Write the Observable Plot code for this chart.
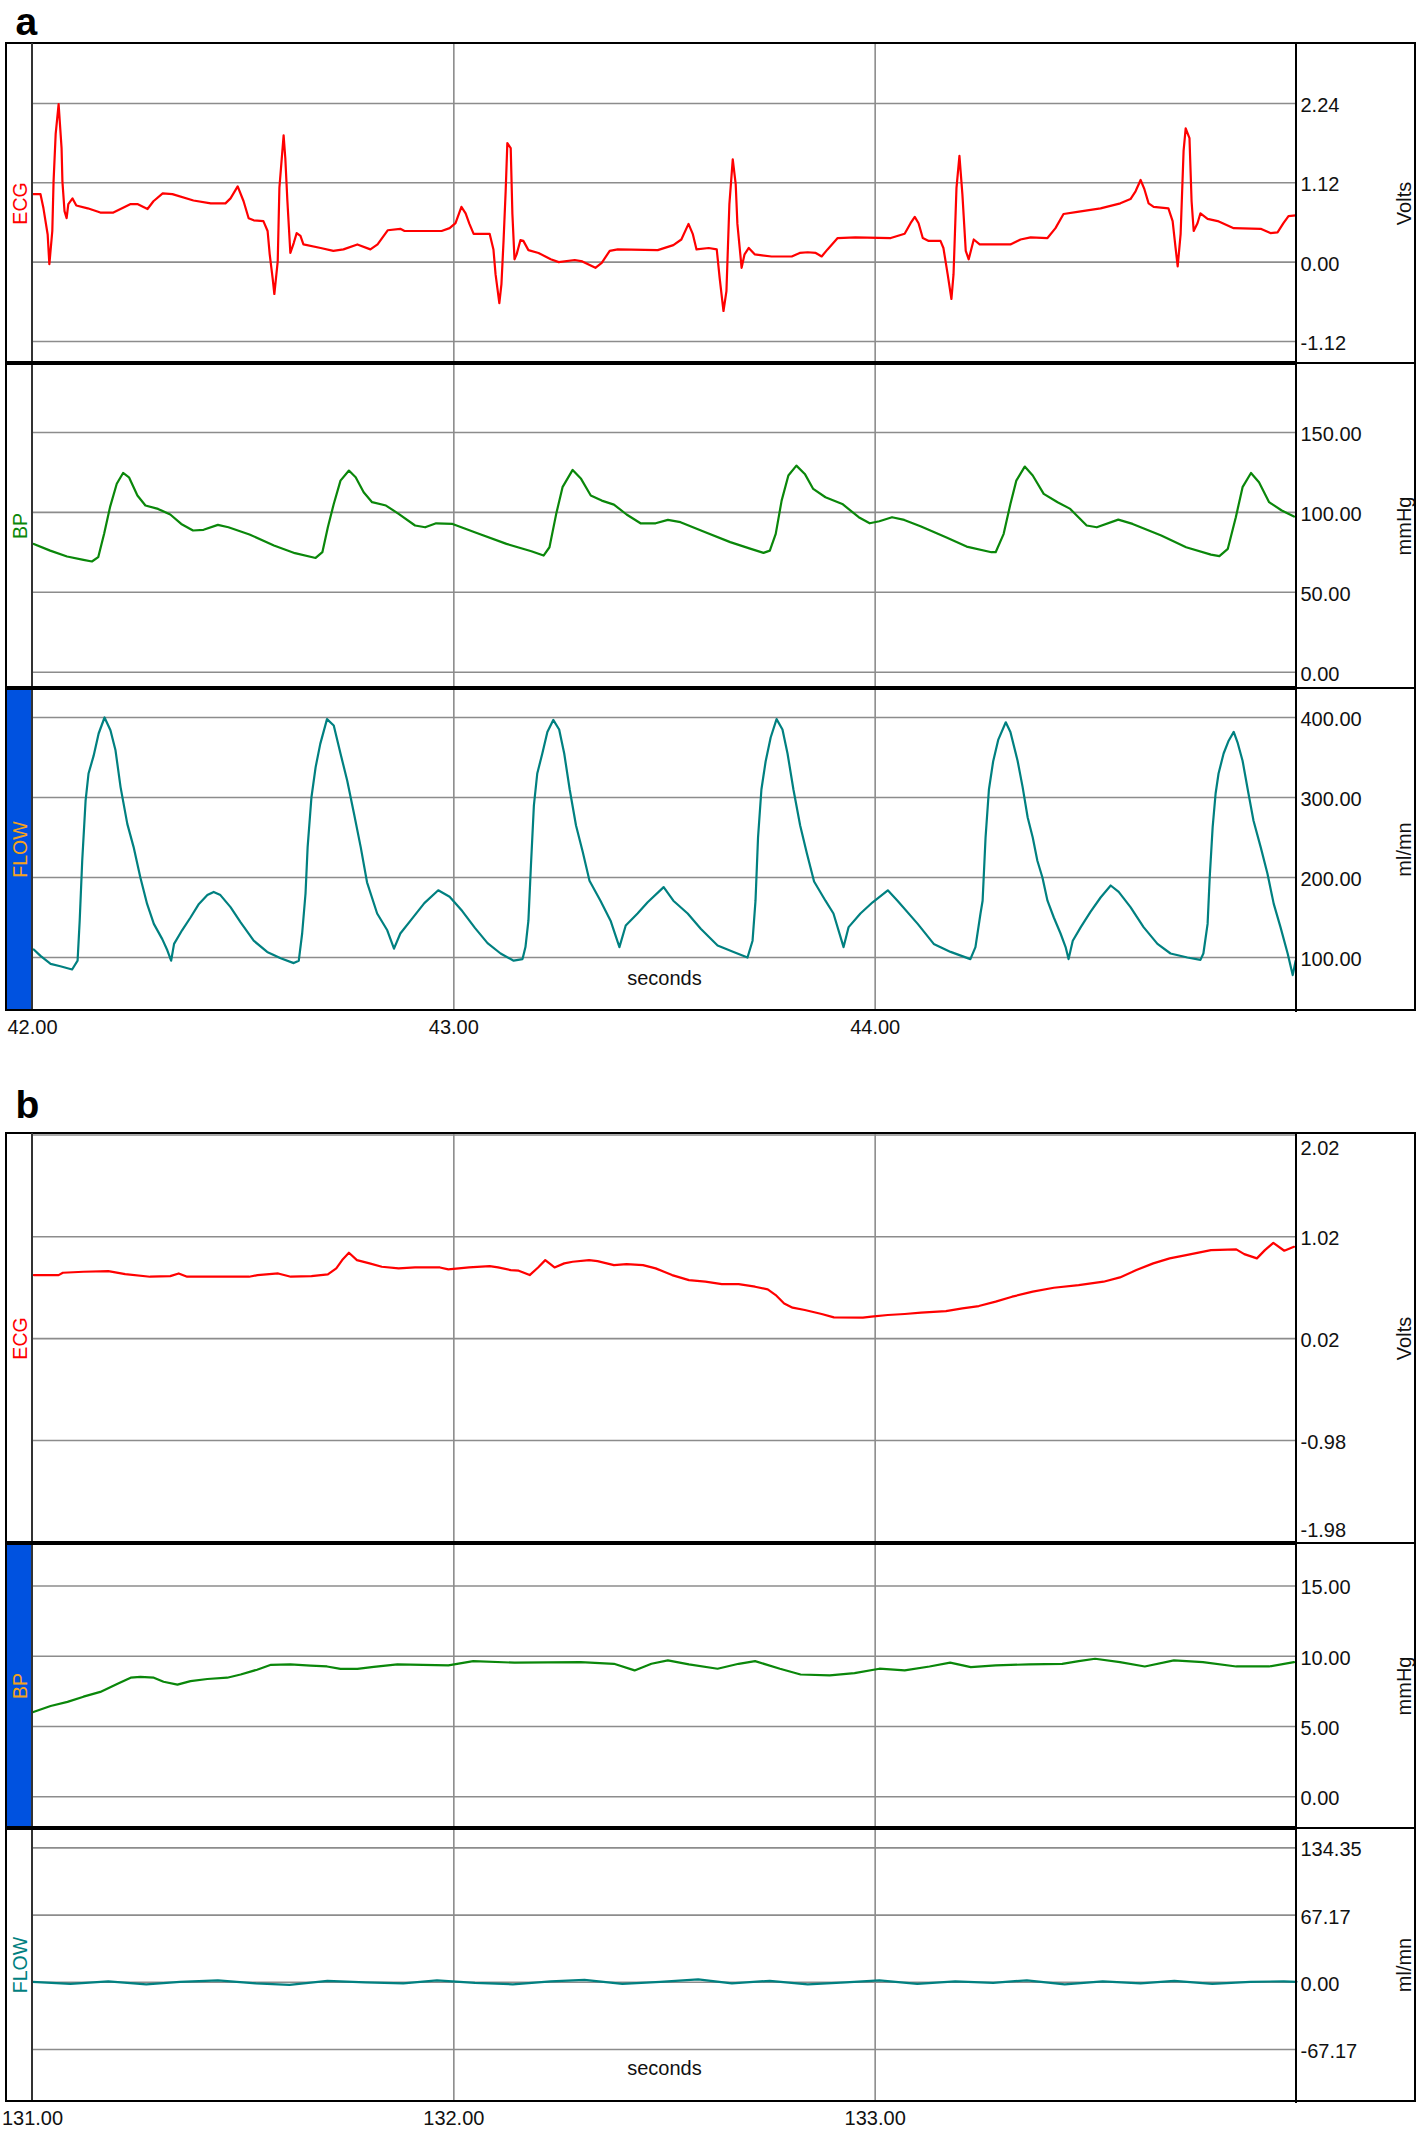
<!DOCTYPE html>
<html><head><meta charset="utf-8">
<script src="https://cdn.jsdelivr.net/npm/d3@7"></script>
<script src="https://cdn.jsdelivr.net/npm/@observablehq/plot@0.6"></script>
<style>
body{margin:0;background:#fff;font-family:"Liberation Sans",Arial,sans-serif;}
#wrap{position:relative;width:1419px;height:2132px;overflow:hidden;background:#fff;}
.ln{position:absolute;z-index:3;}
.bg{position:absolute;z-index:0;background:#0052e0;}
.plab{position:absolute;font-weight:bold;font-size:39px;line-height:39px;color:#000;z-index:4;}
</style></head><body><div id="wrap"></div>
<script>
// ---------------- DATA (time in s, value) ----------------
const ecgA = [[42.002,0.96],[42.019,0.96],[42.026,0.76],[42.036,0.39],[42.040,-0.03],[42.047,0.44],[42.050,1.14],[42.055,1.81],[42.062,2.23],[42.069,1.61],[42.071,1.14],[42.076,0.72],[42.081,0.62],[42.085,0.82],[42.095,0.90],[42.104,0.80],[42.131,0.76],[42.161,0.70],[42.192,0.70],[42.233,0.82],[42.249,0.82],[42.273,0.75],[42.287,0.86],[42.309,0.97],[42.332,0.96],[42.382,0.87],[42.423,0.83],[42.458,0.83],[42.470,0.90],[42.487,1.07],[42.501,0.86],[42.513,0.62],[42.525,0.59],[42.548,0.58],[42.558,0.44],[42.563,0.11],[42.570,-0.23],[42.574,-0.45],[42.582,0.01],[42.586,1.05],[42.596,1.79],[42.600,1.47],[42.605,0.86],[42.612,0.13],[42.620,0.27],[42.627,0.41],[42.636,0.37],[42.643,0.25],[42.684,0.20],[42.714,0.16],[42.738,0.18],[42.771,0.25],[42.802,0.18],[42.819,0.25],[42.843,0.45],[42.873,0.47],[42.883,0.44],[42.971,0.44],[42.990,0.48],[43.004,0.55],[43.018,0.78],[43.028,0.69],[43.037,0.54],[43.047,0.40],[43.085,0.40],[43.094,0.18],[43.099,-0.17],[43.108,-0.58],[43.113,-0.31],[43.118,0.30],[43.123,1.00],[43.127,1.68],[43.135,1.61],[43.139,0.68],[43.144,0.04],[43.149,0.11],[43.158,0.31],[43.165,0.30],[43.177,0.17],[43.201,0.13],[43.230,0.04],[43.249,0.00],[43.287,0.03],[43.305,0.01],[43.336,-0.08],[43.351,-0.01],[43.370,0.16],[43.389,0.18],[43.484,0.17],[43.521,0.24],[43.540,0.32],[43.557,0.54],[43.567,0.40],[43.576,0.18],[43.605,0.20],[43.624,0.18],[43.631,-0.23],[43.640,-0.69],[43.647,-0.41],[43.654,0.82],[43.662,1.45],[43.669,1.10],[43.673,0.54],[43.683,-0.08],[43.690,0.11],[43.700,0.20],[43.714,0.11],[43.754,0.08],[43.802,0.08],[43.821,0.13],[43.840,0.14],[43.859,0.13],[43.873,0.08],[43.887,0.18],[43.911,0.34],[43.953,0.35],[44.037,0.34],[44.070,0.40],[44.084,0.55],[44.094,0.64],[44.103,0.55],[44.113,0.34],[44.127,0.30],[44.155,0.30],[44.162,0.20],[44.172,-0.17],[44.181,-0.52],[44.186,-0.17],[44.193,1.05],[44.200,1.50],[44.207,0.96],[44.215,0.16],[44.222,0.04],[44.234,0.32],[44.248,0.25],[44.298,0.25],[44.321,0.25],[44.345,0.32],[44.369,0.35],[44.409,0.34],[44.428,0.48],[44.447,0.68],[44.480,0.71],[44.535,0.76],[44.582,0.83],[44.606,0.89],[44.618,1.00],[44.630,1.16],[44.639,1.03],[44.649,0.83],[44.661,0.78],[44.696,0.76],[44.706,0.58],[44.713,0.20],[44.718,-0.06],[44.725,0.40],[44.732,1.57],[44.737,1.89],[44.746,1.75],[44.751,0.86],[44.756,0.44],[44.765,0.55],[44.772,0.69],[44.789,0.61],[44.813,0.58],[44.851,0.48],[44.915,0.47],[44.938,0.41],[44.955,0.42],[44.969,0.55],[44.981,0.65],[44.998,0.66]];

const bpA = [[42.003,80.3],[42.042,76.1],[42.082,72.4],[42.121,70.3],[42.141,69.3],[42.156,72.0],[42.170,86.6],[42.184,103.3],[42.200,117.9],[42.215,124.7],[42.229,122.0],[42.249,110.6],[42.268,104.3],[42.298,102.2],[42.327,98.7],[42.353,92.8],[42.381,88.7],[42.406,89.1],[42.440,92.2],[42.465,90.7],[42.515,86.2],[42.573,79.3],[42.623,74.5],[42.672,71.5],[42.688,75.1],[42.701,90.7],[42.715,105.3],[42.731,119.9],[42.751,126.2],[42.767,122.0],[42.786,112.6],[42.806,106.4],[42.839,104.3],[42.869,99.1],[42.908,91.8],[42.932,90.7],[42.958,93.2],[42.997,92.8],[43.056,87.0],[43.125,80.3],[43.184,75.7],[43.213,73.0],[43.227,78.2],[43.243,99.1],[43.258,115.8],[43.282,126.6],[43.302,121.0],[43.325,110.6],[43.351,107.4],[43.380,104.9],[43.410,98.7],[43.443,93.2],[43.479,93.2],[43.508,95.3],[43.538,93.9],[43.597,87.6],[43.656,81.4],[43.705,77.2],[43.735,74.7],[43.750,76.1],[43.764,86.6],[43.778,107.4],[43.794,123.1],[43.813,129.3],[43.833,124.1],[43.853,114.7],[43.882,109.5],[43.922,105.3],[43.961,97.0],[43.987,93.2],[44.010,94.5],[44.040,97.0],[44.069,95.3],[44.109,91.2],[44.168,84.5],[44.217,78.6],[44.276,75.1],[44.286,75.1],[44.305,86.6],[44.321,105.3],[44.335,119.9],[44.355,128.7],[44.374,123.1],[44.400,111.6],[44.433,106.4],[44.463,102.2],[44.502,91.8],[44.526,90.7],[44.577,95.5],[44.611,92.8],[44.679,85.5],[44.738,78.2],[44.797,73.6],[44.817,72.6],[44.837,77.2],[44.856,97.0],[44.872,115.8],[44.892,124.7],[44.911,118.9],[44.935,106.4],[44.965,101.2],[44.994,97.4]];

const flowA = [[42.003,110],[42.019,102],[42.043,92],[42.066,89],[42.094,85],[42.107,96],[42.112,146],[42.118,221],[42.126,296],[42.133,330],[42.145,352],[42.157,380],[42.171,400],[42.185,384],[42.197,359],[42.209,313],[42.225,267],[42.240,238],[42.256,200],[42.272,167],[42.288,142],[42.308,123],[42.320,109],[42.329,96],[42.336,117],[42.355,134],[42.375,150],[42.395,167],[42.415,178],[42.430,182],[42.446,178],[42.470,163],[42.494,144],[42.525,121],[42.557,107],[42.589,99],[42.620,93],[42.632,96],[42.640,130],[42.648,180],[42.653,238],[42.662,300],[42.672,338],[42.683,367],[42.699,398],[42.715,390],[42.731,355],[42.747,321],[42.763,280],[42.779,238],[42.794,194],[42.818,155],[42.842,134],[42.858,111],[42.873,130],[42.900,148],[42.930,168],[42.963,184],[42.990,176],[43.020,158],[43.050,137],[43.080,118],[43.111,105],[43.142,96],[43.163,98],[43.170,113],[43.177,146],[43.183,215],[43.190,290],[43.198,330],[43.210,355],[43.222,382],[43.236,397],[43.250,385],[43.262,355],[43.275,310],[43.290,265],[43.306,232],[43.322,196],[43.348,171],[43.372,146],[43.393,113],[43.408,140],[43.436,155],[43.460,169],[43.498,188],[43.521,171],[43.555,155],[43.586,136],[43.626,115],[43.664,107],[43.697,100],[43.709,121],[43.716,171],[43.722,250],[43.730,310],[43.740,345],[43.752,375],[43.766,398],[43.780,385],[43.792,355],[43.806,310],[43.822,265],[43.838,230],[43.855,195],[43.882,171],[43.901,155],[43.925,113],[43.937,138],[43.965,155],[43.994,169],[44.030,184],[44.053,171],[44.101,142],[44.139,117],[44.179,107],[44.226,98],[44.238,113],[44.250,155],[44.255,171],[44.262,250],[44.270,310],[44.280,345],[44.292,372],[44.310,394],[44.321,382],[44.338,346],[44.350,313],[44.362,275],[44.374,250],[44.385,221],[44.397,200],[44.409,171],[44.424,150],[44.440,130],[44.452,113],[44.459,98],[44.469,121],[44.488,138],[44.511,157],[44.535,175],[44.559,190],[44.578,182],[44.606,163],[44.637,138],[44.670,117],[44.701,105],[44.741,100],[44.772,97],[44.779,105],[44.789,142],[44.794,200],[44.801,263],[44.808,305],[44.815,330],[44.827,355],[44.839,371],[44.851,382],[44.860,369],[44.872,346],[44.886,305],[44.898,271],[44.915,238],[44.931,205],[44.946,167],[44.962,138],[44.979,105],[44.991,78],[44.998,96]];

const ecgB = [[131.003,0.644],[131.062,0.644],[131.072,0.667],[131.121,0.677],[131.180,0.683],[131.220,0.654],[131.279,0.628],[131.327,0.634],[131.347,0.660],[131.367,0.628],[131.514,0.628],[131.534,0.644],[131.583,0.660],[131.613,0.628],[131.662,0.634],[131.701,0.651],[131.721,0.710],[131.735,0.791],[131.751,0.863],[131.770,0.791],[131.800,0.759],[131.829,0.726],[131.869,0.710],[131.908,0.719],[131.967,0.719],[131.987,0.700],[132.036,0.719],[132.085,0.732],[132.105,0.719],[132.135,0.693],[132.154,0.687],[132.180,0.644],[132.200,0.719],[132.217,0.791],[132.239,0.719],[132.262,0.759],[132.282,0.775],[132.321,0.791],[132.341,0.781],[132.380,0.742],[132.410,0.752],[132.449,0.742],[132.479,0.710],[132.518,0.644],[132.558,0.595],[132.597,0.579],[132.636,0.556],[132.676,0.556],[132.715,0.530],[132.745,0.504],[132.764,0.448],[132.784,0.366],[132.804,0.324],[132.833,0.301],[132.873,0.262],[132.902,0.229],[132.971,0.226],[132.991,0.236],[133.030,0.252],[133.070,0.262],[133.109,0.275],[133.168,0.291],[133.207,0.317],[133.246,0.340],[133.286,0.383],[133.325,0.432],[133.374,0.481],[133.424,0.520],[133.483,0.546],[133.542,0.579],[133.581,0.621],[133.620,0.693],[133.660,0.759],[133.699,0.808],[133.738,0.840],[133.797,0.889],[133.857,0.896],[133.876,0.850],[133.906,0.808],[133.925,0.889],[133.945,0.961],[133.971,0.883],[133.994,0.922]];

const bpB = [[131.002,6.03],[131.043,6.46],[131.083,6.75],[131.121,7.12],[131.161,7.46],[131.202,8.04],[131.233,8.47],[131.256,8.53],[131.288,8.47],[131.311,8.18],[131.344,7.98],[131.375,8.23],[131.415,8.38],[131.462,8.47],[131.494,8.70],[131.533,9.04],[131.566,9.39],[131.612,9.42],[131.660,9.33],[131.699,9.27],[131.731,9.10],[131.771,9.10],[131.810,9.24],[131.866,9.42],[131.987,9.35],[132.046,9.65],[132.144,9.54],[132.301,9.58],[132.380,9.46],[132.429,8.99],[132.469,9.46],[132.508,9.70],[132.558,9.42],[132.626,9.11],[132.676,9.46],[132.715,9.65],[132.774,9.11],[132.823,8.70],[132.892,8.63],[132.951,8.80],[133.010,9.11],[133.070,8.99],[133.129,9.27],[133.178,9.54],[133.227,9.22],[133.286,9.35],[133.365,9.42],[133.444,9.46],[133.483,9.65],[133.522,9.82],[133.581,9.58],[133.640,9.27],[133.709,9.70],[133.778,9.58],[133.857,9.27],[133.935,9.27],[133.994,9.58]];

const flowB = [[131.00,0.5],[131.09,-1.5],[131.18,1.0],[131.27,-2.0],[131.35,0.5],[131.44,2.0],[131.53,-1.0],[131.61,-2.5],[131.70,1.5],[131.79,0.0],[131.88,-1.0],[131.96,2.0],[132.05,-0.5],[132.14,-2.0],[132.23,1.0],[132.31,2.5],[132.40,-1.5],[132.49,0.5],[132.58,3.0],[132.66,-1.0],[132.75,1.5],[132.84,-2.0],[132.93,0.0],[133.01,2.0],[133.10,-1.5],[133.19,1.0],[133.28,-0.5],[133.36,2.0],[133.45,-2.0],[133.54,1.0],[133.63,-1.0],[133.71,1.5],[133.80,-1.5],[133.89,0.5],[133.97,1.0],[134.00,0.5]];

const xTicksA = [42, 43, 44], xGridA = [43, 44];
const xTicksB = [131, 132, 133], xGridB = [132, 133];
const ticksEcgA = [2.24, 1.12, 0, -1.12];
const ticksBpA = [150, 100, 50, 0];
const ticksFlowA = [400, 300, 200, 100];
const ticksEcgB = [2.02, 1.02, 0.02, -0.98, -1.98];
const ticksBpB = [15, 10, 5, 0];
const ticksFlowB = [134.35, 67.17, 0, -67.17];

// ---------------- LAYOUT ----------------
const W = 1419, ML = 32, MR = 123;
const RED = "#ff0000", GREEN = "#0a870a", TEAL = "#008080", ORANGE = "#f5a21b";
const wrap = document.getElementById("wrap");
const fmt2 = d => d.toFixed(2);
const FONT = '"Liberation Sans", Arial, Helvetica, sans-serif';

function addPanel(c) {
  const mb = c.mb || 0;
  const pos = d => (1 - (d - c.yd[0]) / (c.yd[1] - c.yd[0])) * c.h;
  const mid = c.ticks.filter(d => pos(d) > 8 && pos(d) < c.h - 8);
  const topT = c.ticks.filter(d => pos(d) <= 8);
  const botT = c.ticks.filter(d => pos(d) >= c.h - 8);
  const tickOpts = {y: d => d, frameAnchor: "right", dx: 4, textAnchor: "start", text: fmt2, fill: "#111", fontSize: 20};
  const marks = [
    Plot.gridY(c.ticks, {stroke: "#8c8c8c", strokeOpacity: 1, strokeWidth: 1.6}),
    Plot.gridX(c.xg, {stroke: "#8c8c8c", strokeOpacity: 1, strokeWidth: 1.6}),
    Plot.line(c.data, {x: d => d[0], y: d => d[1], stroke: c.color, strokeWidth: 2.2}),
    Plot.text(mid, {...tickOpts, dy: 2}),
    Plot.text(topT, {...tickOpts, dy: 14}),
    Plot.text(botT, {...tickOpts, dy: -12}),
    Plot.text([c.unit], {frameAnchor: "right", dx: 108, rotate: -90, textAnchor: "middle", text: d => d, fill: "#111", fontSize: 20}),
    Plot.text([c.label], {frameAnchor: "left", dx: -12, rotate: -90, textAnchor: "middle", text: d => d, fill: c.labelColor, fontSize: 19.5})
  ];
  if (c.xt) {
    marks.push(Plot.text(c.xt, {x: d => d, frameAnchor: "bottom", dy: c.xtDy, text: fmt2, fill: "#111", fontSize: 20}));
    marks.push(Plot.text(["seconds"], {frameAnchor: "bottom", dy: c.secDy, text: d => d, fill: "#111", fontSize: 20}));
  }
  const svg = Plot.plot({
    width: W, height: c.h + mb,
    marginLeft: ML, marginRight: MR, marginTop: 0, marginBottom: mb,
    x: {domain: c.xd, axis: null},
    y: {domain: c.yd, axis: null},
    style: {background: "transparent", fontFamily: FONT, fontSize: "20px", overflow: "visible", color: "#111"},
    marks
  });
  svg.style.position = "absolute";
  svg.style.left = "0px";
  svg.style.top = c.top + "px";
  svg.style.zIndex = "1";
  wrap.appendChild(svg);
}

function hl(x1, x2, y, th, col) {
  const d = document.createElement("div");
  d.className = "ln";
  d.style.cssText = `left:${x1}px;width:${x2 - x1}px;top:${y - th / 2}px;height:${th}px;background:${col || "#000"}`;
  wrap.appendChild(d);
}
function vl(x, y1, y2, th, col) {
  const d = document.createElement("div");
  d.className = "ln";
  d.style.cssText = `left:${x - th / 2}px;width:${th}px;top:${y1}px;height:${y2 - y1}px;background:${col || "#000"}`;
  wrap.appendChild(d);
}
function blue(y1, y2) {
  const d = document.createElement("div");
  d.className = "bg";
  d.style.cssText = `left:7px;width:24px;top:${y1}px;height:${y2 - y1}px`;
  wrap.appendChild(d);
}
function frame(top, s1, s2, bottom) {
  hl(5, 1416, top, 2);
  vl(6, top, bottom, 2);
  vl(32, top, bottom, 2.5, "#333");
  vl(1296, top, bottom + 2, 2);
  vl(1415, top, bottom, 2);
  [s1, s2].forEach(s => { hl(5, 1296, s, 3.5); hl(1296, 1416, s, 2); });
  hl(5, 1416, bottom, 2);
}
function plab(txt, x, top) {
  const d = document.createElement("div");
  d.className = "plab";
  d.textContent = txt;
  d.style.left = x + "px";
  d.style.top = top + "px";
  wrap.appendChild(d);
}

// panel a
plab("a", 15.5, 2);
blue(688, 1010);
addPanel({top: 43, h: 320, xd: [42, 45], xg: xGridA, yd: [-1.431, 3.087], data: ecgA, color: RED, ticks: ticksEcgA, unit: "Volts", label: "ECG", labelColor: RED});
addPanel({top: 363, h: 325, xd: [42, 45], xg: xGridA, yd: [-10.2, 193.2], data: bpA, color: GREEN, ticks: ticksBpA, unit: "mmHg", label: "BP", labelColor: GREEN});
addPanel({top: 688, h: 322, mb: 40, xd: [42, 45], xg: xGridA, yd: [33.75, 436.25], data: flowA, color: TEAL, ticks: ticksFlowA, unit: "ml/mn", label: "FLOW", labelColor: ORANGE, xt: xTicksA, xtDy: 23, secDy: -26});
frame(43, 363, 688, 1010);

// panel b
plab("b", 15.5, 1085);
blue(1543, 1828);
addPanel({top: 1133, h: 410, xd: [131, 134], xg: xGridB, yd: [-1.991, 2.034], data: ecgB, color: RED, ticks: ticksEcgB, unit: "Volts", label: "ECG", labelColor: RED});
addPanel({top: 1543, h: 285, xd: [131, 134], xg: xGridB, yd: [-2.26, 18.02], data: bpB, color: GREEN, ticks: ticksBpB, unit: "mmHg", label: "BP", labelColor: ORANGE});
addPanel({top: 1828, h: 273, mb: 31, xd: [131, 134], xg: xGridB, yd: [-119.15, 153.74], data: flowB, color: TEAL, ticks: ticksFlowB, unit: "ml/mn", label: "FLOW", labelColor: TEAL, xt: xTicksB, xtDy: 23, secDy: -27});
frame(1133, 1543, 1828, 2101);
</script></body></html>
